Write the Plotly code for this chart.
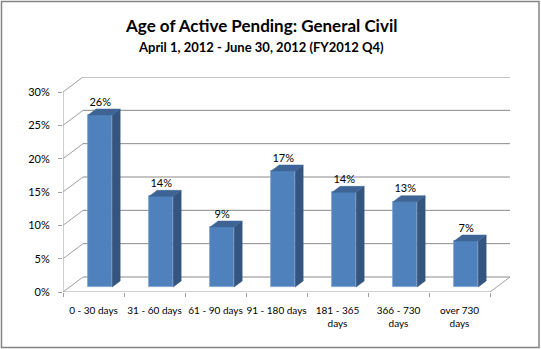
import plotly.graph_objects as go

# ---- data -------------------------------------------------------------
categories = ["0 - 30 days", "31 - 60 days", "61 - 90 days", "91 - 180 days",
              "181 - 365<br>days", "366 - 730<br>days", "over 730<br>days"]
pending_pct = [25.8, 13.6, 9.0, 17.4, 14.2, 12.8, 6.9]
y_ticks = [0, 5, 10, 15, 20, 25, 30]

# ---- figure geometry (pixels) ----------------------------------------
W, H = 541, 349
PL, PR, PT, PB = 63, 510, 77, 292          # plot-area box
N = len(categories)
DEPTH_PX_X, DEPTH_PX_Y = 20, 15            # oblique depth of the 3-D box

ppu_x = (PR - PL - DEPTH_PX_X) / N         # pixels per category
DX = DEPTH_PX_X / ppu_x                    # depth offset in x data units
y_top = 30
ppu_y = (PB - PT - DEPTH_PX_Y) / y_top     # pixels per percent
DY = DEPTH_PX_Y / ppu_y                    # depth offset in y data units

BAR_W = 24 / ppu_x                         # bar width in category units
D0, D1 = 1 / 3, 1 / 3 + 0.4                # bar front/back depth fractions


def px_to_paper_x(px):
    return (px - PL) / (PR - PL)


def px_to_paper_y(py):
    return (PB - py) / (PB - PT)


GRID = "#8a8a8a"
AXIS = "#a0a0a0"
FRONT = "#4F81BD"
SIDE = "#34557f"
TOP = "#3d6494"
FONT = "Lato"

fig = go.Figure()

# ---- walls: gridlines and box edges drawn beneath the bars -----------
shapes = []
for t in y_ticks:
    # back wall gridline
    shapes.append(dict(type="line", xref="x", yref="y", layer="below",
                       x0=DX, y0=t + DY, x1=N + DX, y1=t + DY,
                       line=dict(color=GRID, width=1)))
    # left wall diagonal
    shapes.append(dict(type="line", xref="x", yref="y", layer="below",
                       x0=0, y0=t, x1=DX, y1=t + DY,
                       line=dict(color=AXIS, width=1)))
# front vertical axis
shapes.append(dict(type="line", xref="x", yref="y", layer="below",
                   x0=0, y0=0, x1=0, y1=y_top, line=dict(color=AXIS, width=1)))
# floor front edge (category axis) and right floor edge
shapes.append(dict(type="line", xref="x", yref="y", layer="below",
                   x0=0, y0=0, x1=N, y1=0, line=dict(color=AXIS, width=1)))
shapes.append(dict(type="line", xref="x", yref="y", layer="below",
                   x0=N, y0=0, x1=N + DX, y1=DY, line=dict(color=AXIS, width=1)))

# chart border
shapes.append(dict(type="rect", xref="paper", yref="paper", layer="above",
                   x0=px_to_paper_x(1.5), x1=px_to_paper_x(539),
                   y0=px_to_paper_y(347.5), y1=px_to_paper_y(1.5),
                   line=dict(color="#848484", width=1.5)))

# ---- bars: front faces ------------------------------------------------
centers = [i + 0.5 + D0 * DX for i in range(N)]
fig.add_trace(go.Bar(
    x=centers, y=pending_pct, base=D0 * DY, width=BAR_W,
    marker=dict(color=FRONT, line=dict(color="#7b9fcd", width=0.8)),
    hoverinfo="skip", showlegend=False,
))

# ---- bars: side and top faces ------------------------------------------
bdx = (D1 - D0) * DX
bdy = (D1 - D0) * DY
for c, v in zip(centers, pending_pct):
    xl, xr = c - BAR_W / 2, c + BAR_W / 2
    yb, yt = D0 * DY, D0 * DY + v
    fig.add_trace(go.Scatter(
        x=[xr, xr, xr + bdx, xr + bdx, xr], y=[yb, yt, yt + bdy, yb + bdy, yb],
        fill="toself", fillcolor=SIDE, mode="lines",
        line=dict(color=SIDE, width=0.5), hoverinfo="skip", showlegend=False))
    fig.add_trace(go.Scatter(
        x=[xl, xr, xr + bdx, xl + bdx, xl], y=[yt, yt, yt + bdy, yt + bdy, yt],
        fill="toself", fillcolor=TOP, mode="lines",
        line=dict(color=TOP, width=0.5), hoverinfo="skip", showlegend=False))

# ---- data labels --------------------------------------------------------
label_gap = 12 / ppu_y
fig.add_trace(go.Scatter(
    x=centers, y=[D0 * DY + v + label_gap for v in pending_pct],
    text=[f"{v:.0f}%" for v in pending_pct], mode="text",
    textposition="middle center",
    textfont=dict(family=FONT, size=11, color="#000000"),
    hoverinfo="skip", showlegend=False))

# ---- titles -------------------------------------------------------------
annotations = [
    dict(text="<b>Age of Active Pending: General Civil</b>", xref="paper", yref="paper",
         x=px_to_paper_x(261), y=px_to_paper_y(25), xanchor="center", yanchor="middle",
         showarrow=False, font=dict(family=FONT, size=17, color="#000000")),
    dict(text="<b>April 1, 2012 - June 30, 2012 (FY2012 Q4)</b>", xref="paper", yref="paper",
         x=px_to_paper_x(261), y=px_to_paper_y(47), xanchor="center", yanchor="middle",
         showarrow=False, font=dict(family=FONT, size=13, color="#000000")),
]

fig.update_layout(
    width=W, height=H,
    margin=dict(l=PL, r=W - PR, t=PT, b=H - PB, pad=0),
    paper_bgcolor="white", plot_bgcolor="white",
    shapes=shapes, annotations=annotations,
    bargap=0,
    xaxis=dict(
        range=[0, N + DX], tickmode="array",
        tickvals=[i + 0.5 for i in range(N)], ticktext=categories,
        ticks="", showgrid=False, zeroline=False, showline=False,
        tickfont=dict(family=FONT, size=10, color="#000000"),
        ticklabelstandoff=11,
        minor=dict(tickmode="array", tickvals=list(range(N + 1)), ticks="outside",
                   ticklen=4, tickcolor=AXIS, showgrid=False),
        fixedrange=True,
    ),
    yaxis=dict(
        range=[0, y_top + DY], tickmode="array", tickvals=y_ticks,
        ticktext=[f"{t}%" for t in y_ticks],
        ticks="outside", ticklen=4, tickcolor=AXIS,
        showgrid=False, zeroline=False, showline=False,
        tickfont=dict(family=FONT, size=11, color="#000000"),
        ticklabelstandoff=6,
        fixedrange=True,
    ),
)

fig.write_html("out.html")
